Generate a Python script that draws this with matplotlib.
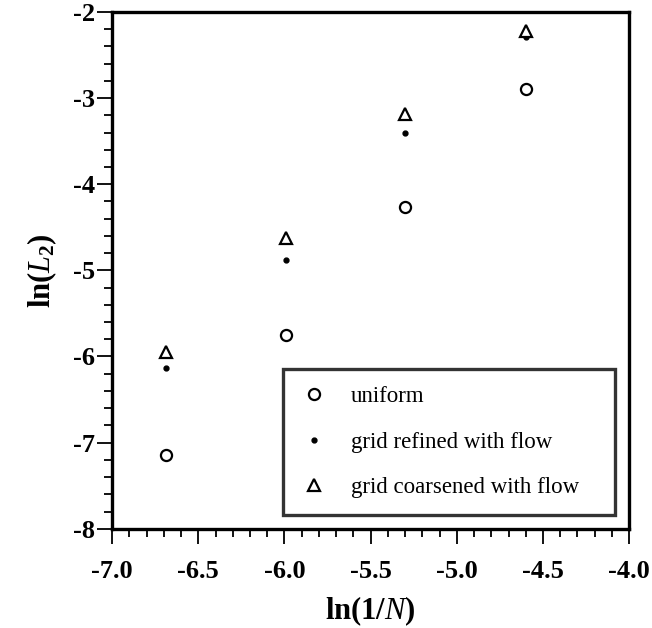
import numpy as np
import matplotlib
matplotlib.use("Agg")
import matplotlib.pyplot as plt
from matplotlib.ticker import MultipleLocator

plt.rcParams['font.family'] = ['Liberation Serif', 'DejaVu Serif']
plt.rcParams['mathtext.fontset'] = 'custom'
plt.rcParams['mathtext.rm'] = 'Liberation Serif:bold'
plt.rcParams['mathtext.bf'] = 'Liberation Serif:bold'
plt.rcParams['mathtext.it'] = 'Liberation Serif:italic'

# ln(1/N) for N = 800, 400, 200, 100
x_vals = [-6.69, -5.99, -5.30, -4.60]
uniform = [-7.14, -5.75, -4.26, -2.89]
refined = [-6.13, -4.88, -3.40, -2.29]
coarsened = [-5.95, -4.62, -3.18, -2.22]
labels = ["uniform", "grid refined with flow", "grid coarsened with flow"]
x_ticks = [-7.0, -6.5, -6.0, -5.5, -5.0, -4.5, -4.0]
y_ticks = [-8, -7, -6, -5, -4, -3, -2]

fig = plt.figure(figsize=(6.52, 6.28), dpi=100)
ax = fig.add_axes([0.172, 0.158, 0.793, 0.823])

ax.plot(x_vals, uniform, 'o', ls='none', mfc='white', mec='black', mew=1.6, ms=8, label=labels[0])
ax.plot(x_vals, refined, 'o', ls='none', mfc='black', mec='black', ms=3.5, label=labels[1])
ax.plot(x_vals, coarsened, '^', ls='none', mfc='white', mec='black', mew=1.6, ms=9, label=labels[2])

ax.set_xlim(-7.0, -4.0)
ax.set_ylim(-8, -2)
ax.set_xticks(x_ticks)
ax.set_xticklabels(["%.1f" % v for v in x_ticks])
ax.set_yticks(y_ticks)
ax.set_yticklabels([str(v) for v in y_ticks])
ax.xaxis.set_minor_locator(MultipleLocator(0.1))
ax.yaxis.set_minor_locator(MultipleLocator(0.2))

for lab in ax.get_xticklabels() + ax.get_yticklabels():
    lab.set_fontweight('bold')
    lab.set_fontsize(19)

ax.tick_params(which='major', direction='out', length=10.5, width=1.3, pad=12)
ax.tick_params(axis='y', which='major', pad=2)
ax.tick_params(which='minor', direction='out', length=5.5, width=1.3)
for s in ax.spines.values():
    s.set_linewidth(2.4)

ax.set_xlabel(r'$\mathbf{ln(1/}\mathit{N}\mathbf{)}$', fontsize=22, labelpad=8)
ax.set_ylabel(r'$\mathbf{ln(}\mathit{L}_{\mathbf{2}}\mathbf{)}$', fontsize=22, labelpad=10)

leg = ax.legend(loc='lower left', bbox_to_anchor=(0.331, 0.027, 0.642, 0.306), mode='expand',
                fontsize=16.5, frameon=True, fancybox=False, edgecolor='black',
                handletextpad=1.0, labelspacing=1.05, borderpad=0.75, handlelength=1.2,
                borderaxespad=0)
leg.get_frame().set_linewidth(2.4)

fig.savefig("out.png", dpi=100)
